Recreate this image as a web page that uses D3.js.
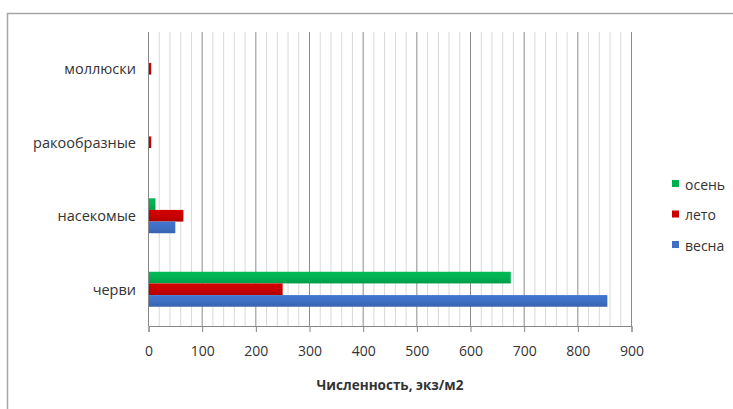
<!DOCTYPE html>
<html>
<head>
<meta charset="utf-8">
<script src="https://cdn.jsdelivr.net/npm/d3@7"></script>
<style>
  html, body { margin: 0; padding: 0; background: #fff; }
  svg { display: block; }
  text { font-family: "Open Sans", "Noto Sans", sans-serif; fill: #333; }
</style>
</head>
<body>
<svg id="chart" width="733" height="409"></svg>
<script>
// Benthos groups, listed top to bottom
const categories = ["моллюски", "ракообразные", "насекомые", "черви"];
// Seasons, in the order the bars are stacked inside each group (top to bottom)
const seasons = ["осень", "лето", "весна"];
// Abundance per group, ind./m2
const springValues = [0, 0, 50, 855];
const summerValues = [5, 5, 65, 250];
const autumnValues = [0, 0, 13, 675];
const xTicks = [0, 100, 200, 300, 400, 500, 600, 700, 800, 900];
const axisTitle = "Численность, экз/м2";

const seriesValues = { "осень": autumnValues, "лето": summerValues, "весна": springValues };
const colors = { "осень": "#00b050", "лето": "#c80000", "весна": "#3f6fc4" };

const svg = d3.select("#chart");

// outer chart frame (runs past the right and bottom edges)
svg.append("rect")
  .attr("x", 7.5).attr("y", 13.5)
  .attr("width", 740).attr("height", 420)
  .attr("fill", "#fff").attr("stroke", "#a6a6a6").attr("stroke-width", 1.5);

const plot = { left: 148.5, right: 631.5, top: 32, bottom: 326 };

const x = d3.scaleLinear().domain([0, 900]).range([plot.left, plot.right]);
const y = d3.scaleBand().domain(categories).range([plot.top, plot.bottom])
  .paddingInner(0.524).paddingOuter(0.262);
const ySub = d3.scaleBand().domain(seasons).range([0, y.bandwidth()]);

// gradients giving the bars a soft shaded look
const defs = svg.append("defs");
seasons.forEach((s, i) => {
  const c = d3.color(colors[s]);
  const g = defs.append("linearGradient").attr("id", "g" + i)
    .attr("x1", 0).attr("y1", 0).attr("x2", 0).attr("y2", 1);
  g.append("stop").attr("offset", "0%").attr("stop-color", c.brighter(0.15));
  g.append("stop").attr("offset", "55%").attr("stop-color", c);
  g.append("stop").attr("offset", "100%").attr("stop-color", c.darker(0.35));
});

// minor gridlines every 20
const minor = d3.range(0, 901, 20).filter(v => v % 100 !== 0);
svg.append("g").selectAll("line").data(minor).join("line")
  .attr("x1", d => x(d)).attr("x2", d => x(d))
  .attr("y1", plot.top).attr("y2", plot.bottom)
  .attr("stroke", "#d9d9d9").attr("stroke-width", 1);

// major gridlines every 100
svg.append("g").selectAll("line").data(xTicks.slice(1)).join("line")
  .attr("x1", d => x(d)).attr("x2", d => x(d))
  .attr("y1", plot.top).attr("y2", plot.bottom)
  .attr("stroke", "#8c8c8c").attr("stroke-width", 1);

// bars
const groups = svg.append("g").selectAll("g").data(categories).join("g")
  .attr("transform", d => `translate(0,${y(d)})`);
groups.selectAll("rect")
  .data((cat, ci) => seasons.map((s, si) => ({ s, si, v: seriesValues[s][ci] })))
  .join("rect")
  .attr("x", x(0))
  .attr("y", d => ySub(d.s))
  .attr("width", d => x(d.v) - x(0))
  .attr("height", ySub.bandwidth())
  .attr("fill", d => `url(#g${d.si})`);

// bottom axis
const xAxis = d3.axisBottom(x).tickValues(xTicks).tickSize(6).tickPadding(14);
const ax = svg.append("g").attr("transform", `translate(0,${plot.bottom})`).call(xAxis);
ax.select(".domain").attr("stroke", "#868686");
ax.selectAll(".tick line").attr("stroke", "#868686");
ax.selectAll(".tick text").style("font-size", "14px").attr("fill", "#333");

// left axis line
svg.append("line")
  .attr("x1", plot.left).attr("x2", plot.left)
  .attr("y1", plot.top).attr("y2", plot.bottom)
  .attr("stroke", "#868686");

// category labels
svg.append("g").selectAll("text").data(categories).join("text")
  .attr("x", 136)
  .attr("y", d => y(d) + y.bandwidth() / 2)
  .attr("text-anchor", "end").attr("dominant-baseline", "central")
  .style("font-size", "14.5px")
  .text(d => d);

// axis title
svg.append("text")
  .attr("x", (plot.left + plot.right) / 2).attr("y", 390)
  .attr("text-anchor", "middle")
  .style("font-size", "13.5px").style("font-weight", "bold")
  .text(axisTitle);

// legend
const legend = svg.append("g").selectAll("g").data(seasons).join("g")
  .attr("transform", (d, i) => `translate(672,${184 + i * 30.5})`);
legend.append("rect")
  .attr("x", 0).attr("y", -4).attr("width", 7).attr("height", 7)
  .attr("fill", d => colors[d]);
legend.append("text")
  .attr("x", 13).attr("y", 0)
  .attr("dominant-baseline", "central")
  .style("font-size", "14px")
  .text(d => d);
</script>
</body>
</html>
